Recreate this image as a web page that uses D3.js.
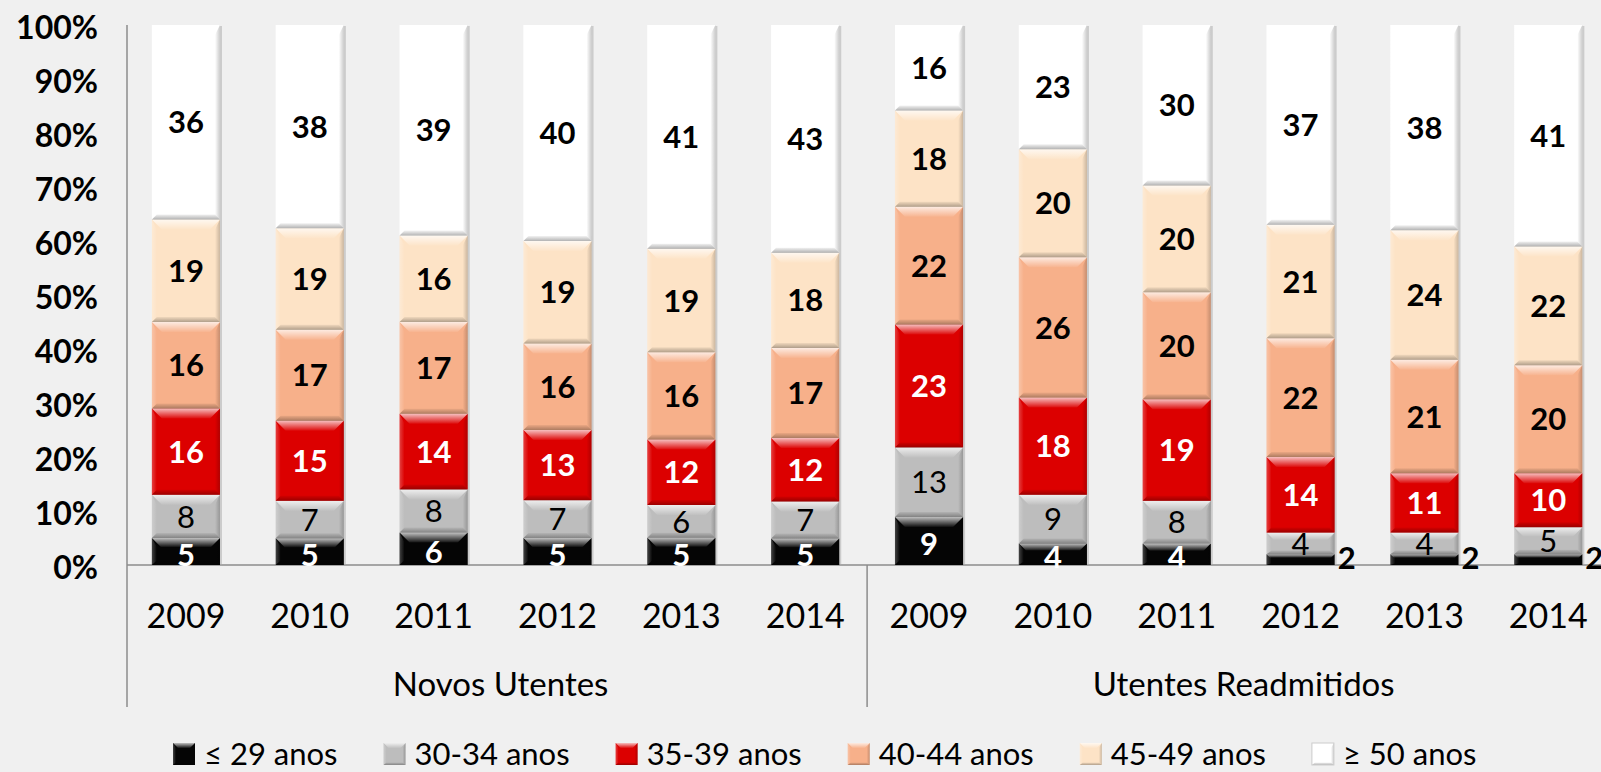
<!DOCTYPE html>
<html>
<head>
<meta charset="utf-8">
<script src="https://cdn.jsdelivr.net/npm/d3@7"></script>
<style>
  html, body { margin: 0; padding: 0; background: #f0f0f0; }
  svg { display: block; font-family: Lato, "Open Sans", sans-serif; }
</style>
</head>
<body>
<svg id="chart"></svg>
<script>
// ---------- data
var groups = ["Novos Utentes", "Utentes Readmitidos"];
var years = ["2009", "2010", "2011", "2012", "2013", "2014"];
var ageGroups = ["\u2264 29 anos", "30-34 anos", "35-39 anos", "40-44 anos", "45-49 anos", "\u2265 50 anos"];

// each series: 6 values for Novos Utentes, then 6 for Utentes Readmitidos
var s_le29  = [5, 5, 6, 5, 5, 5,   9, 4, 4, 2, 2, 2];
var s_30_34 = [8, 7, 8, 7, 6, 7,   13, 9, 8, 4, 4, 5];
var s_35_39 = [16, 15, 14, 13, 12, 12,   23, 18, 19, 14, 11, 10];
var s_40_44 = [16, 17, 17, 16, 16, 17,   22, 26, 20, 22, 21, 20];
var s_45_49 = [19, 19, 16, 19, 19, 18,   18, 20, 20, 21, 24, 22];
var s_ge50  = [36, 38, 39, 40, 41, 43,   16, 23, 30, 37, 38, 41];

var yTicks = [0, 0.1, 0.2, 0.3, 0.4, 0.5, 0.6, 0.7, 0.8, 0.9, 1];

// ---------- styles
var seriesArrays = [s_le29, s_30_34, s_35_39, s_40_44, s_45_49, s_ge50];
var fills = ["#050505", "#bdbdbd", "#dc0000", "#f7b08a", "#fde3c6", "#ffffff"];
var labelColors = ["#ffffff", "#000000", "#ffffff", "#000000", "#000000", "#000000"];
var labelWeights = [700, 400, 700, 700, 700, 700];
var keys = d3.range(ageGroups.length).map(function(i) { return "k" + i; });

// build rows for the stack
var rows = [];
groups.forEach(function(g, gi) {
  years.forEach(function(yr, yi) {
    var idx = gi * years.length + yi;
    var row = { id: g + "|" + yr, group: g, year: yr };
    keys.forEach(function(k, ki) { row[k] = seriesArrays[ki][idx]; });
    rows.push(row);
  });
});

var W = 1601, H = 772;
var svg = d3.select("#chart").attr("width", W).attr("height", H);

svg.append("rect").attr("width", W).attr("height", H).attr("fill", "#f0f0f0");

// gradients for the soft bevel look
var defs = svg.append("defs");
function grad(id, x2, y2, color, o1, o2) {
  var lg = defs.append("linearGradient").attr("id", id)
    .attr("x1", 0).attr("y1", 0).attr("x2", x2).attr("y2", y2);
  lg.append("stop").attr("offset", "0%").attr("stop-color", color).attr("stop-opacity", o1);
  lg.append("stop").attr("offset", "100%").attr("stop-color", color).attr("stop-opacity", o2);
}
grad("topHi", 0, 1, "#ffffff", 0.75, 0.05);
grad("botSh", 0, 1, "#000000", 0.05, 0.3);
grad("leftHi", 1, 0, "#ffffff", 0.25, 0.0);
grad("rightSh", 1, 0, "#000000", 0.0, 0.2);

var plotLeft = 124, step = 123.85;
var x = d3.scaleBand()
  .domain(rows.map(function(d) { return d.id; }))
  .range([plotLeft, plotLeft + step * rows.length])
  .paddingInner(0.45)
  .paddingOuter(0.225);

var y = d3.scaleLinear().domain([0, 1]).range([565, 25]);

// ---------- y axis
var yAxis = svg.append("g")
  .attr("transform", "translate(98,0)")
  .call(d3.axisLeft(y).tickValues(yTicks).tickSize(0).tickPadding(0).tickFormat(d3.format(".0%")));
yAxis.select(".domain").remove();
yAxis.selectAll("text")
  .attr("dy", "0.42em")
  .style("font-family", "Lato, sans-serif")
  .style("font-size", "32px")
  .style("font-weight", 700)
  .attr("fill", "#000");

// axis lines
var sepX = x(rows[6].id) - x.step() * x.paddingInner() / 2;
svg.append("line")
  .attr("x1", 127).attr("x2", 127).attr("y1", y(1)).attr("y2", 707)
  .attr("stroke", "#8c8c8c").attr("stroke-width", 1.5);
svg.append("line")
  .attr("x1", 127).attr("x2", W).attr("y1", y(0)).attr("y2", y(0))
  .attr("stroke", "#8c8c8c").attr("stroke-width", 1.5);
svg.append("line")
  .attr("x1", sepX).attr("x2", sepX)
  .attr("y1", y(0)).attr("y2", 707)
  .attr("stroke", "#8c8c8c").attr("stroke-width", 1.5);

// ---------- stacked bars (100% stacked)
var stacked = d3.stack().keys(keys).offset(d3.stackOffsetExpand)(rows);

// soft bevel for one rectangle
function bevel(g, x0, y0, w, h, fill, isSwatch) {
  var b = Math.min(isSwatch ? 5 : 10, h / 3);
  var s = Math.min(isSwatch ? 3 : 5, w / 6);
  g.append("rect").attr("x", x0).attr("y", y0).attr("width", w).attr("height", h).attr("fill", fill);
  var x1 = x0 + w, y1 = y0 + h;
  // top highlight
  g.append("path")
    .attr("d", "M" + x0 + "," + y0 + "L" + x1 + "," + y0 + "L" + (x1 - b) + "," + (y0 + b) + "L" + (x0 + b) + "," + (y0 + b) + "Z")
    .attr("fill", "url(#topHi)");
  // left
  g.append("path")
    .attr("d", "M" + x0 + "," + y0 + "L" + (x0 + s) + "," + (y0 + b) + "L" + (x0 + s) + "," + (y1 - b / 2) + "L" + x0 + "," + y1 + "Z")
    .attr("fill", "url(#leftHi)");
  // right
  g.append("path")
    .attr("d", "M" + x1 + "," + y0 + "L" + (x1 - s) + "," + (y0 + b) + "L" + (x1 - s) + "," + (y1 - b / 2) + "L" + x1 + "," + y1 + "Z")
    .attr("fill", "url(#rightSh)");
  // bottom shadow
  g.append("path")
    .attr("d", "M" + x0 + "," + y1 + "L" + x1 + "," + y1 + "L" + (x1 - s) + "," + (y1 - b / 2) + "L" + (x0 + s) + "," + (y1 - b / 2) + "Z")
    .attr("fill", "url(#botSh)");
}

var barsG = svg.append("g").attr("class", "bars");

// drop shadow behind each full bar
barsG.selectAll("rect.shadow")
  .data(rows)
  .enter().append("rect")
  .attr("class", "shadow")
  .attr("x", function(d) { return x(d.id) + 2; })
  .attr("y", y(1) + 1)
  .attr("width", x.bandwidth())
  .attr("height", y(0) - y(1))
  .attr("fill", "#a8a8a8").attr("opacity", 0.5);

stacked.forEach(function(layer, li) {
  layer.forEach(function(seg) {
    var g = barsG.append("g");
    var x0 = x(seg.data.id), y0 = y(seg[1]), h = y(seg[0]) - y(seg[1]);
    bevel(g, x0, y0, x.bandwidth(), h, fills[li], false);
  });
});

// ---------- data labels
var labelsG = svg.append("g").attr("class", "labels")
  .style("font-family", "Lato, sans-serif").style("font-size", "31px");

stacked.forEach(function(layer, li) {
  layer.forEach(function(seg) {
    var val = seg.data[keys[li]];
    var h = y(seg[0]) - y(seg[1]);
    var t = labelsG.append("text").text(val).attr("dy", "0.36em");
    if (h < 15) {
      // too thin: label goes outside, to the right of the bar
      t.attr("x", x(seg.data.id) + x.bandwidth() + 3)
        .attr("y", y((seg[0] + seg[1]) / 2) - 2)
        .attr("text-anchor", "start")
        .attr("fill", "#000").attr("font-weight", 700);
    } else {
      t.attr("x", x(seg.data.id) + x.bandwidth() / 2)
        .attr("y", y((seg[0] + seg[1]) / 2) + (li === 0 ? 3 : 0))
        .attr("text-anchor", "middle")
        .attr("fill", labelColors[li]).attr("font-weight", labelWeights[li]);
    }
  });
});

// ---------- x axis: years and groups
svg.append("g").selectAll("text")
  .data(rows)
  .enter().append("text")
  .attr("x", function(d) { return x(d.id) + x.bandwidth() / 2; })
  .attr("y", 616)
  .attr("dy", "0.36em")
  .attr("text-anchor", "middle")
  .style("font-size", "34px")
  .attr("fill", "#000")
  .text(function(d) { return d.year; });

svg.append("g").selectAll("text")
  .data(groups)
  .enter().append("text")
  .attr("x", function(g) {
    var ids = rows.filter(function(r) { return r.group === g; });
    return (x(ids[0].id) + x(ids[ids.length - 1].id) + x.bandwidth()) / 2 + 5;
  })
  .attr("y", 684)
  .attr("dy", "0.36em")
  .attr("text-anchor", "middle")
  .style("font-size", "33px")
  .attr("fill", "#000")
  .text(function(g) { return g; });

// ---------- legend
var legend = svg.append("g").attr("class", "legend");
var lx = 173, ly = 754;
ageGroups.forEach(function(name, i) {
  var item = legend.append("g");
  bevel(item, lx, ly - 11, 22, 22, fills[i], true);
  if (i === ageGroups.length - 1) {
    item.append("rect").attr("x", lx).attr("y", ly - 11).attr("width", 22).attr("height", 22)
      .attr("fill", "none").attr("stroke", "#cccccc");
  }
  var t = item.append("text")
    .attr("x", lx + 31).attr("y", ly).attr("dy", "0.36em")
    .style("font-size", "31px").attr("fill", "#000")
    .text(name);
  lx = lx + 31 + t.node().getComputedTextLength() + 46;
});
</script>
</body>
</html>
